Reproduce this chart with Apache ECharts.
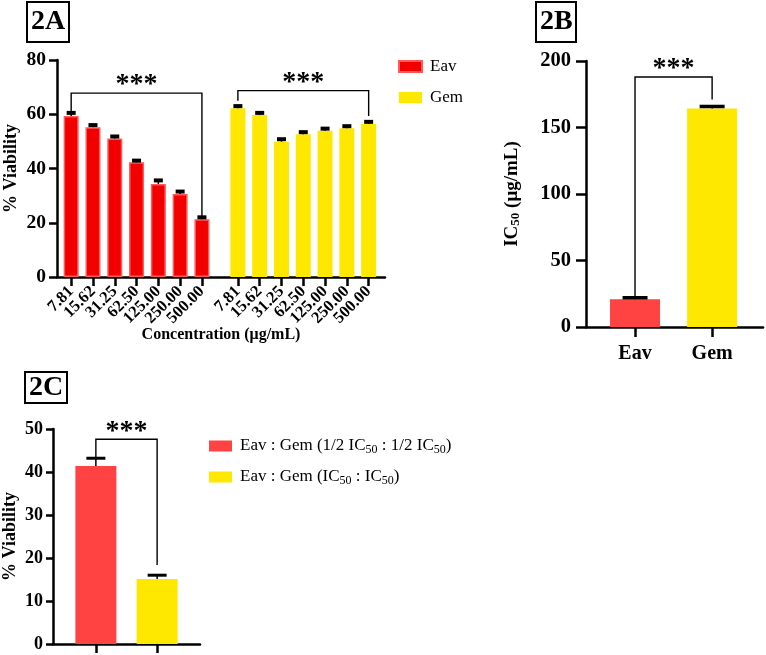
<!DOCTYPE html>
<html>
<head>
<meta charset="utf-8">
<script src="https://cdn.jsdelivr.net/npm/echarts@6/dist/echarts.min.js"></script>
<style>
html,body{margin:0;padding:0;background:#fff;}
#chart{width:766px;height:655px;}
</style>
</head>
<body>
<div id="chart"></div>
<script>
// ---------- DATA ----------
const concLabels = ['7.81','15.62','31.25','62.50','125.00','250.00','500.00'];
const eavViability = [59.4, 55.2, 51.1, 42.3, 34.3, 30.6, 21.3];
const eavViabilityErr = [1.1, 0.8, 0.7, 0.6, 1.3, 0.9, 0.7];
const gemViability = [62.2, 59.7, 49.9, 52.6, 53.9, 54.8, 56.4];
const gemViabilityErr = [0.8, 0.8, 0.9, 0.8, 0.8, 0.8, 0.8];

const ic50Names = ['Eav', 'Gem'];
const ic50Values = [20.8, 164.2];
const ic50Err = [1.2, 1.6];

const comboNames = ['Eav : Gem (1/2 IC50 : 1/2 IC50)', 'Eav : Gem (IC50 : IC50)'];
const comboRich = ['{n|Eav : Gem (1/2 IC}{s|50}{n| : 1/2 IC}{s|50}{n|)}', '{n|Eav : Gem (IC}{s|50}{n| : IC}{s|50}{n|)}'];
const comboValues = [41.4, 15.1];
const comboErr = [1.8, 0.9];

// significance brackets: [leftIndex, rightIndex, topValue, leftBottomValue, rightBottomValue]
const bracketA = [[0, 6, 67.8, 61.0, 22.5], [7, 13, 68.7, 65.0, 59.4]];
const bracketB = [[0, 1, 188, 23, 171]];
const bracketC = [[0, 1, 47.6, 43.2, 18.4]];

// ---------- LAYOUT HELPERS ----------
const SERIF = '"Liberation Serif", "Times New Roman", serif';
const groupGap = 0.65;
const posA = i => (i < 7 ? i + 1 : i + 1 + groupGap);
const eavPos = concLabels.map((_, i) => posA(i));
const gemPos = concLabels.map((_, i) => posA(i + 7));
const allPosA = eavPos.concat(gemPos);
const allLabelsA = concLabels.concat(concLabels);
const posBC = i => i + 1;
const xMinA = 0.35, xMaxA = 15.4;
// empty guard labels at the axis ends keep every real label visible
const labelPosA = [xMinA].concat(allPosA, [xMaxA]);

const RED_A = '#f20000', RED_A_EDGE = '#ff5a5a';
const RED = '#ff4242';
const YEL = '#ffe800';

function errRender(capW, capT) {
  return function (params, api) {
    const x = api.value(0), v = api.value(1), e = api.value(2);
    const b = api.coord([x, v]);
    const t = api.coord([x, v + e]);
    return {
      type: 'group',
      children: [
        { type: 'line', shape: { x1: b[0], y1: b[1], x2: t[0], y2: t[1] }, style: { stroke: '#000', lineWidth: 1.5 } },
        { type: 'line', shape: { x1: t[0] - capW / 2, y1: t[1], x2: t[0] + capW / 2, y2: t[1] }, style: { stroke: '#000', lineWidth: capT } }
      ]
    };
  };
}
function bracketRender(posFn) {
  return function (params, api) {
    const x1 = posFn(api.value(0)), x2 = posFn(api.value(1));
    const top = api.value(2), lb = api.value(3), rb = api.value(4);
    const p1 = api.coord([x1, lb]), p2 = api.coord([x1, top]), p3 = api.coord([x2, top]), p4 = api.coord([x2, rb]);
    return {
      type: 'group',
      children: [
        { type: 'polyline', shape: { points: [p1, p2, p3, p4] }, style: { stroke: '#000', lineWidth: 1.4, fill: null } },
        { type: 'text', x: (p2[0] + p3[0]) / 2, y: p2[1] - 8, style: { text: '***', fontFamily: SERIF, fontWeight: 'bold', fontSize: 28, align: 'center', verticalAlign: 'middle', fill: '#000' } }
      ]
    };
  };
}

const axisLine = { show: true, lineStyle: { color: '#000', width: 2.5 } };
const axisTickStyle = { lineStyle: { color: '#000', width: 2.5 } };
const boldLabel = () => ({ color: '#000', fontFamily: SERIF, fontWeight: 700 });

const chart = echarts.init(document.getElementById('chart'), null, { renderer: 'canvas' });

const option = {
  backgroundColor: '#fff',
  animation: false,
  title: [
    { text: '2A', left: 27, top: 2, borderColor: '#000', borderWidth: 2, padding: [5, 4, 5, 4], textStyle: { fontFamily: SERIF, fontWeight: 'bold', fontSize: 28, lineHeight: 30, color: '#000' } },
    { text: '2B', left: 536, top: 2, borderColor: '#000', borderWidth: 2, padding: [5, 4, 5, 4], textStyle: { fontFamily: SERIF, fontWeight: 'bold', fontSize: 28, lineHeight: 30, color: '#000' } },
    { text: '2C', left: 25, top: 372, borderColor: '#000', borderWidth: 2, padding: [1, 4, 1, 4], textStyle: { fontFamily: SERIF, fontWeight: 'bold', fontSize: 28, lineHeight: 29, color: '#000' } }
  ],
  legend: [
    {
      data: ['Eav', 'Gem'], orient: 'vertical', left: 393, top: 53, itemWidth: 23, itemHeight: 11, itemGap: 14,
      icon: 'rect',
      textStyle: { fontFamily: SERIF, fontSize: 17, color: '#000', padding: [0, 0, 0, 3] }
    },
    {
      data: comboNames, orient: 'vertical', left: 204, top: 431, itemWidth: 23, itemHeight: 11, itemGap: 11,
      icon: 'rect',
      formatter: name => comboRich[comboNames.indexOf(name)],
      textStyle: {
        fontFamily: SERIF, fontSize: 17, color: '#000', padding: [0, 0, 0, 3],
        rich: {
          n: { fontFamily: SERIF, fontSize: 17, color: '#000', lineHeight: 20 },
          s: { fontFamily: SERIF, fontSize: 12, color: '#000', lineHeight: 20, padding: [8, 0, 0, 0] }
        }
      }
    }
  ],
  grid: [
    { left: 57, top: 60, width: 328, height: 217 },
    { left: 586, top: 61, width: 177, height: 266 },
    { left: 53, top: 429, width: 147, height: 215 }
  ],
  xAxis: [
    {
      gridIndex: 0, type: 'value', min: xMinA, max: xMaxA,
      axisLine: axisLine, splitLine: { show: false },
      axisTick: Object.assign({ customValues: allPosA, length: 9 }, axisTickStyle),
      axisLabel: Object.assign({ customValues: labelPosA, rotate: 45, fontSize: 16.5, margin: 12, hideOverlap: false, showMinLabel: true, showMaxLabel: true,
        formatter: v => { let k = -1, d = 0.05; allPosA.forEach((p, i) => { if (Math.abs(p - v) < d) { d = Math.abs(p - v); k = i; } }); return k < 0 ? '' : allLabelsA[k]; } }, boldLabel()),
      name: 'Concentration (μg/mL)', nameLocation: 'middle', nameGap: 50, nameMoveOverlap: false,
      nameTextStyle: { fontFamily: SERIF, fontWeight: 'bold', fontSize: 16, color: '#000' }
    },
    {
      gridIndex: 1, type: 'value', min: 0.364, max: 2.66,
      axisLine: axisLine, splitLine: { show: false },
      axisTick: Object.assign({ customValues: [1, 2], length: 10 }, axisTickStyle),
      axisLabel: Object.assign({ customValues: [1, 2], fontSize: 20, margin: 17, showMinLabel: true, showMaxLabel: true, formatter: v => ic50Names[Math.round(v) - 1] }, boldLabel())
    },
    {
      gridIndex: 2, type: 'value', min: 0.30, max: 2.70,
      axisLine: axisLine, splitLine: { show: false },
      axisTick: Object.assign({ customValues: [1, 2], length: 9 }, axisTickStyle),
      axisLabel: { show: false }
    }
  ],
  yAxis: [
    {
      gridIndex: 0, type: 'value', min: 0, max: 80, interval: 20,
      axisLine: axisLine, splitLine: { show: false },
      axisTick: Object.assign({ show: true, length: 8 }, axisTickStyle),
      axisLabel: Object.assign({ fontSize: 19.5, margin: 11 }, boldLabel()),
      name: '% Viability', nameLocation: 'middle', nameGap: 37, nameMoveOverlap: false,
      nameTextStyle: { fontFamily: SERIF, fontWeight: 'bold', fontSize: 18, color: '#000' }
    },
    {
      gridIndex: 1, type: 'value', min: 0, max: 200, interval: 50,
      axisLine: axisLine, splitLine: { show: false },
      axisTick: Object.assign({ show: true, length: 10 }, axisTickStyle),
      axisLabel: Object.assign({ fontSize: 20.5, margin: 15 }, boldLabel()),
      name: '{b|IC}{s|50}{b| (μg/mL)}', nameLocation: 'middle', nameGap: 63, nameMoveOverlap: false,
      nameTextStyle: {
        fontFamily: SERIF, fontWeight: 'bold', fontSize: 19, color: '#000',
        rich: {
          b: { fontFamily: SERIF, fontWeight: 'bold', fontSize: 19, color: '#000', lineHeight: 22 },
          s: { fontFamily: SERIF, fontWeight: 'bold', fontSize: 13, color: '#000', lineHeight: 22, padding: [8, 0, 0, 0] }
        }
      }
    },
    {
      gridIndex: 2, type: 'value', min: 0, max: 50, interval: 10,
      axisLine: axisLine, splitLine: { show: false },
      axisTick: Object.assign({ show: true, length: 7 }, axisTickStyle),
      axisLabel: Object.assign({ fontSize: 18, margin: 10 }, boldLabel()),
      name: '% Viability', nameLocation: 'middle', nameGap: 34, nameMoveOverlap: false,
      nameTextStyle: { fontFamily: SERIF, fontWeight: 'bold', fontSize: 18, color: '#000' }
    }
  ],
  series: [
    // 2A bars
    { name: 'Eav', type: 'bar', xAxisIndex: 0, yAxisIndex: 0, barWidth: 15, barGap: '-100%',
      itemStyle: { color: RED_A, borderColor: RED_A_EDGE, borderWidth: 1.5 },
      data: eavViability.map((v, i) => [eavPos[i], v]) },
    { name: 'Gem', type: 'bar', xAxisIndex: 0, yAxisIndex: 0, barWidth: 15, barGap: '-100%',
      itemStyle: { color: YEL },
      data: gemViability.map((v, i) => [gemPos[i], v]) },
    { type: 'custom', xAxisIndex: 0, yAxisIndex: 0, z: 5, renderItem: errRender(9, 4),
      data: eavViability.map((v, i) => [eavPos[i], v, eavViabilityErr[i]]).concat(gemViability.map((v, i) => [gemPos[i], v, gemViabilityErr[i]])) },
    { type: 'custom', xAxisIndex: 0, yAxisIndex: 0, z: 5, renderItem: bracketRender(posA), data: bracketA },
    // 2B
    { name: 'IC50', type: 'bar', xAxisIndex: 1, yAxisIndex: 1, barWidth: 50,
      data: ic50Values.map((v, i) => ({ value: [posBC(i), v], itemStyle: { color: i === 0 ? RED : YEL } })) },
    { type: 'custom', xAxisIndex: 1, yAxisIndex: 1, z: 5, renderItem: errRender(25, 3.5),
      data: ic50Values.map((v, i) => [posBC(i), v, ic50Err[i]]) },
    { type: 'custom', xAxisIndex: 1, yAxisIndex: 1, z: 5, renderItem: bracketRender(posBC), data: bracketB },
    // 2C
    { name: comboNames[0], type: 'bar', xAxisIndex: 2, yAxisIndex: 2, barWidth: 41, barGap: '-100%',
      itemStyle: { color: RED }, data: [[posBC(0), comboValues[0]]] },
    { name: comboNames[1], type: 'bar', xAxisIndex: 2, yAxisIndex: 2, barWidth: 41, barGap: '-100%',
      itemStyle: { color: YEL }, data: [[posBC(1), comboValues[1]]] },
    { type: 'custom', xAxisIndex: 2, yAxisIndex: 2, z: 5, renderItem: errRender(19, 3),
      data: comboValues.map((v, i) => [posBC(i), v, comboErr[i]]) },
    { type: 'custom', xAxisIndex: 2, yAxisIndex: 2, z: 5, renderItem: bracketRender(posBC), data: bracketC }
  ]
};
chart.setOption(option);
</script>
</body>
</html>
